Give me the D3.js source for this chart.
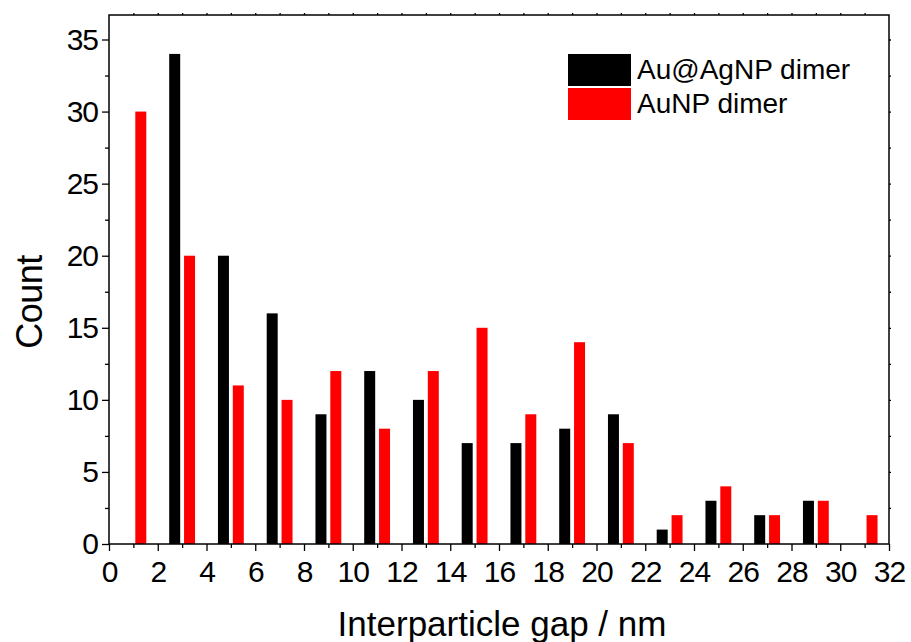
<!DOCTYPE html>
<html>
<head>
<meta charset="utf-8">
<script src="https://cdn.jsdelivr.net/npm/d3@7"></script>
<style>
  html, body { margin: 0; padding: 0; background: #fff; }
  svg { display: block; }
  text { font-family: "Liberation Sans", Arial, sans-serif; fill: #000; }
</style>
</head>
<body>
<svg id="chart" width="911" height="642"></svg>
<script>
// ---- data ----
const binCenters = [1, 3, 5, 7, 9, 11, 13, 15, 17, 19, 21, 23, 25, 27, 29, 31];
const auAgDimer = [0, 34, 20, 16, 9, 12, 10, 7, 7, 8, 9, 1, 3, 2, 3, 0];
const auDimer   = [30, 20, 11, 10, 12, 8, 12, 15, 9, 14, 7, 2, 4, 2, 3, 2];
const seriesNames = ["Au@AgNP dimer", "AuNP dimer"];
const seriesColors = ["#000000", "#ff0000"];
const xTickValues = [0, 2, 4, 6, 8, 10, 12, 14, 16, 18, 20, 22, 24, 26, 28, 30, 32];
const yTickValues = [0, 5, 10, 15, 20, 25, 30, 35];
const xTitle = "Interparticle gap / nm";
const yTitle = "Count";

// ---- layout ----
const W = 911, H = 642;
const L = 109, R = 889, T = 15, B = 544;

const svg = d3.select("#chart");

const x = d3.scaleLinear().domain([0, 32]).range([L, R]);
const y = d3.scaleLinear().domain([0, 36.7]).range([B, T]);
const xSub = d3.scaleBand().domain(seriesNames).range([-0.53, 0.53]).paddingInner(0.26).paddingOuter(0);

const rows = binCenters.map((c, i) => ({ c, values: [auAgDimer[i], auDimer[i]] }));

// bars
const g = svg.append("g");
rows.forEach(r => {
  r.values.forEach((v, k) => {
    if (v <= 0) return;
    const x0 = x(r.c + xSub(seriesNames[k]));
    const x1 = x(r.c + xSub(seriesNames[k]) + xSub.bandwidth());
    g.append("rect")
      .attr("x", x0).attr("y", y(v))
      .attr("width", x1 - x0).attr("height", y(0) - y(v))
      .attr("fill", seriesColors[k]);
  });
});

// axes
const fontTick = 30;
const xAxis = d3.axisBottom(x).tickValues(xTickValues).tickSize(7).tickPadding(10).tickFormat(d3.format("d"));
const xMinor = d3.axisBottom(x).tickValues(d3.range(1, 32, 2)).tickSize(4).tickFormat("");
const yAxis = d3.axisLeft(y).tickValues(yTickValues).tickSize(7).tickPadding(4).tickFormat(d3.format("d"));
const yMinor = d3.axisLeft(y).tickValues(d3.range(2.5, 36, 5)).tickSize(4).tickFormat("");
const xTop = d3.axisTop(x).tickValues(d3.range(1, 32, 1)).tickSize(2).tickFormat("");
const yRight = d3.axisRight(y).tickValues(d3.range(2.5, 36.5, 2.5)).tickSize(2).tickFormat("");

function styleAxis(sel) {
  sel.select(".domain").remove();
  sel.selectAll("line").attr("stroke", "#000").attr("stroke-width", 1.3);
  sel.selectAll("text").style("font-size", fontTick + "px")
    .style("letter-spacing", "-1px")
    .style("font-family", '"Liberation Sans", Arial, sans-serif').attr("fill", "#000");
}

svg.append("g").attr("transform", `translate(0,${B})`).call(xAxis).call(styleAxis);
svg.append("g").attr("transform", `translate(0,${B})`).call(xMinor).call(styleAxis);
svg.append("g").attr("transform", `translate(${L},0)`).call(yAxis).call(styleAxis);
svg.append("g").attr("transform", `translate(${L},0)`).call(yMinor).call(styleAxis);
svg.append("g").attr("transform", `translate(0,${T})`).call(xTop).call(styleAxis);
svg.append("g").attr("transform", `translate(${R},0)`).call(yRight).call(styleAxis);

// frame
svg.append("rect").attr("x", L).attr("y", T).attr("width", R - L).attr("height", B - T)
  .attr("fill", "none").attr("stroke", "#000").attr("stroke-width", 1.5);

// titles
svg.append("text").attr("x", 502).attr("y", 636).attr("text-anchor", "middle")
  .style("font-size", "35px").text(xTitle);
svg.append("text").attr("transform", "translate(42,302) rotate(-90)").attr("text-anchor", "middle")
  .style("font-size", "36px").style("letter-spacing", "-0.5px").text(yTitle);

// legend
const lg = svg.append("g");
seriesNames.forEach((name, k) => {
  const top = [54, 88][k];
  lg.append("rect").attr("x", 568).attr("y", top).attr("width", 63).attr("height", 32)
    .attr("fill", seriesColors[k]);
  lg.append("text").attr("x", 637).attr("y", top + 24.5).style("font-size", "28px").text(name);
});
</script>
</body>
</html>
